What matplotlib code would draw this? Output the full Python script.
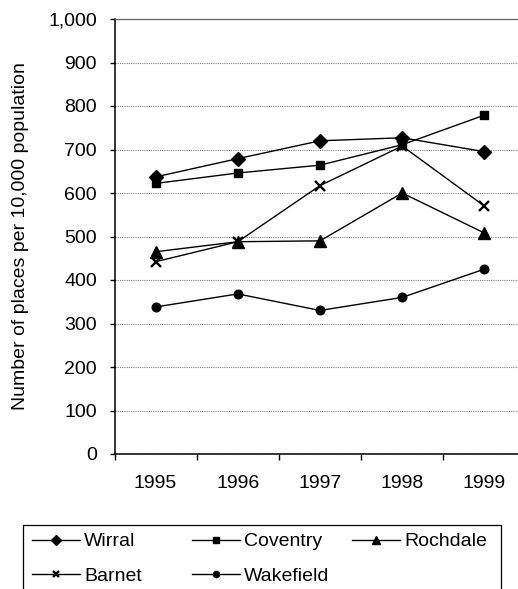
import matplotlib
matplotlib.use("Agg")
import matplotlib.pyplot as plt
from matplotlib.patches import Rectangle
from matplotlib.ticker import FuncFormatter, MultipleLocator, FixedLocator

plt.rcParams['font.family'] = ['Liberation Sans', 'DejaVu Sans']

years = ['1995', '1996', '1997', '1998', '1999']
wirral = [637, 679, 720, 727, 695]
coventry = [622, 646, 664, 711, 779]
rochdale = [465, 488, 490, 600, 508]
barnet = [442, 488, 617, 708, 570]
wakefield = [338, 368, 330, 360, 425]

series = [
    ('Wirral', wirral, dict(marker='D', ms=7)),
    ('Coventry', coventry, dict(marker='s', ms=5.8)),
    ('Rochdale', rochdale, dict(marker='^', ms=8)),
    ('Barnet', barnet, dict(marker='x', ms=6.5, mew=1.7)),
    ('Wakefield', wakefield, dict(marker='o', ms=6.2)),
]

FS = 14
W, H = 518, 589
fig = plt.figure(figsize=(W / 100, H / 100), dpi=100)
ax = fig.add_axes([114.5 / W, 135 / H, 411 / W, 435 / H])

xs = list(range(len(years)))
handles = {}
for name, vals, style in series:
    ln, = ax.plot(xs, vals, color='black', lw=1.0, mfc='black', mec='black',
                  label=name, clip_on=False, **style)
    handles[name] = ln

ax.set_xlim(-0.5, len(years) - 0.5)
ax.set_ylim(0, 1000)
ax.yaxis.set_major_locator(MultipleLocator(100))
ax.yaxis.set_major_formatter(FuncFormatter(lambda v, p: f'{int(v):,}'))
ax.set_xticks(xs)
ax.set_xticklabels(years)
ax.xaxis.set_minor_locator(FixedLocator([i - 0.5 for i in range(len(years) + 1)]))
ax.tick_params(axis='x', which='major', length=0, pad=15, labelsize=FS)
ax.tick_params(axis='x', which='minor', length=4.3, width=1.0, direction='out')
ax.tick_params(axis='y', length=3.6, width=1.0, direction='out', pad=9, labelsize=FS)

ax.grid(axis='y', color='#808080', linestyle=(0, (1, 1)), lw=0.8)
ax.set_axisbelow(True)
for side in ('left', 'bottom'):
    ax.spines[side].set_color('black')
    ax.spines[side].set_linewidth(1.1)
ax.spines['top'].set_color('#606060')
ax.spines['top'].set_linewidth(0.9)
ax.spines['right'].set_visible(False)

fig.text(21 / W, 1 - 236 / H, 'Number of places per 10,000 population',
         rotation=90, ha='center', va='center', fontsize=FS)

# legend frame spanning the width under the chart
fig.patches.append(Rectangle((23.3 / W, -0.05), (501 - 23.3) / W, 0.05 + (H - 525) / H,
                             transform=fig.transFigure, fill=False, edgecolor='black',
                             lw=0.9))

leg_kw = dict(frameon=False, fontsize=FS, handlelength=2.47, handletextpad=0.22,
              borderpad=0, borderaxespad=0, labelspacing=0.87, markerscale=0.72,
              loc='center left')
cols = [(31.7, ['Wirral', 'Barnet'], 558.8),
        (191.7, ['Coventry', 'Wakefield'], 558.8),
        (351.7, ['Rochdale'], 541.5)]
for x0, names, yc in cols:
    fig.legend([handles[n] for n in names], names,
               bbox_to_anchor=(x0 / W, 1 - yc / H), bbox_transform=fig.transFigure,
               **leg_kw)

fig.savefig('out.png', dpi=100)
